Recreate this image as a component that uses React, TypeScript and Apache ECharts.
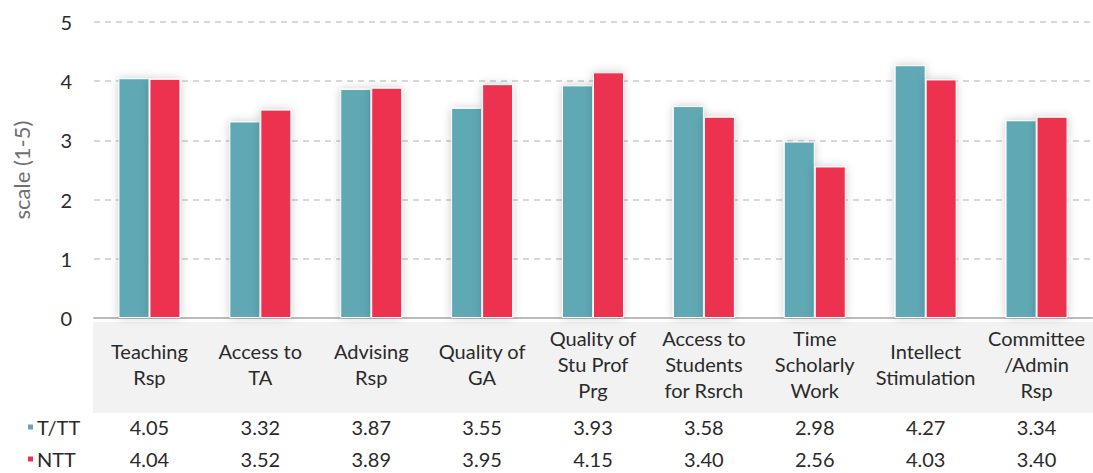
import React, { useEffect, useRef } from "react";
import * as echarts from "echarts";

const categories = [
  "Teaching\nRsp",
  "Access to\nTA",
  "Advising\nRsp",
  "Quality of\nGA",
  "Quality of\nStu Prof\nPrg",
  "Access to\nStudents\nfor Rsrch",
  "Time\nScholarly\nWork",
  "Intellect\nStimulation",
  "Committee\n/Admin\nRsp",
];
const seriesNames = ["T/TT", "NTT"];
const tttValues = [4.05, 3.32, 3.87, 3.55, 3.93, 3.58, 2.98, 4.27, 3.34];
const nttValues = [4.04, 3.52, 3.89, 3.95, 4.15, 3.4, 2.56, 4.03, 3.4];
const colors = ["#5fa8b4", "#ec3350"];

const FONT = "Lato";

export default function App() {
  const ref = useRef<HTMLDivElement>(null);
  useEffect(() => {
    const chart = echarts.init(ref.current!, null, { renderer: "svg" });
    const fmt = (v: number) => v.toFixed(2);
    const valueAxis = (vals: number[], margin: number) => ({
      type: "category",
      position: "bottom",
      data: vals.map(fmt),
      axisLine: { show: false },
      axisTick: { show: false },
      axisLabel: {
        interval: 0,
        margin,
        verticalAlign: "middle",
        color: "#2a2a2a",
        fontSize: 20,
        fontFamily: FONT,
      },
    });
    chart.setOption({
      animation: false,
      textStyle: { fontFamily: FONT },
      grid: { left: 94, right: 1, top: 22, bottom: 155, containLabel: false },
      graphic: [
        {
          type: "rect",
          shape: { x: 93, y: 322, width: 1000, height: 91 },
          style: { fill: "#f2f2f2" },
          z: -10,
          silent: true,
        },
      ],
      legend: {
        orient: "vertical",
        left: 26,
        top: 417,
        padding: 0,
        itemWidth: 7,
        itemHeight: 7,
        itemGap: 12,
        icon: "rect",
        data: seriesNames,
        textStyle: { fontSize: 20, color: "#2a2a2a", fontFamily: FONT, lineHeight: 20, padding: [0, 0, 0, -2] },
      },
      xAxis: [
        {
          type: "category",
          data: categories,
          axisLine: { lineStyle: { color: "#bbb", width: 2 } },
          axisTick: { show: false },
          axisLabel: {
            interval: 0,
            margin: 46,
            verticalAlign: "middle",
            color: "#2a2a2a",
            fontSize: 20,
            lineHeight: 26,
            fontFamily: FONT,
          },
        },
        valueAxis(tttValues, 109),
        valueAxis(nttValues, 141),
      ],
      yAxis: {
        type: "value",
        min: 0,
        max: 5,
        interval: 1,
        name: "scale (1-5)",
        nameLocation: "middle",
        nameGap: 62,
        nameTextStyle: { color: "#707070", fontSize: 22, fontFamily: FONT },
        axisLine: { show: false },
        axisTick: { show: false },
        axisLabel: { color: "#2a2a2a", fontSize: 20, margin: 22, fontFamily: FONT },
        splitLine: { lineStyle: { color: "#ccc", type: [6, 5], width: 1.5 } },
      },
      series: [
        {
          name: seriesNames[0],
          type: "bar",
          data: tttValues,
          barWidth: 31,
          barGap: "0%",
          itemStyle: {
            color: colors[0],
            borderColor: "#fff",
            borderWidth: 1,
            shadowBlur: 10,
            shadowColor: "rgba(0,0,0,0.2)",
          },
        },
        {
          name: seriesNames[1],
          type: "bar",
          data: nttValues,
          barWidth: 31,
          barGap: "0%",
          itemStyle: {
            color: colors[1],
            borderColor: "#fff",
            borderWidth: 1,
            shadowBlur: 10,
            shadowColor: "rgba(0,0,0,0.2)",
          },
        },
      ],
    });
    return () => chart.dispose();
  }, []);
  return <div ref={ref} style={{ width: 1093, height: 473, position: "absolute", left: 0, top: 0 }} />;
}
